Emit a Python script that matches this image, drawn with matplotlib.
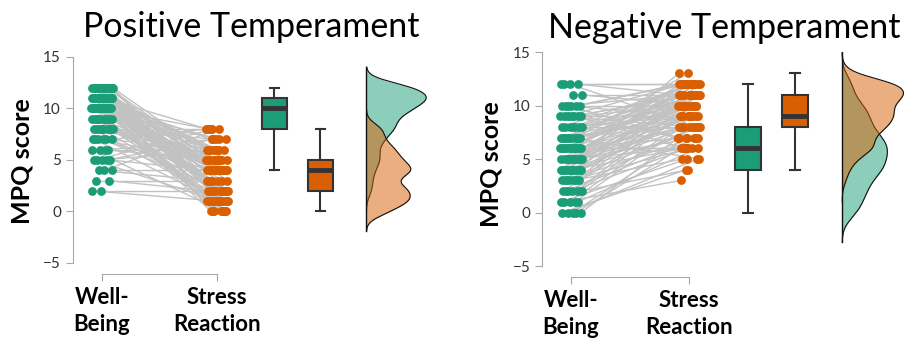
import numpy as np
import matplotlib.pyplot as plt

plt.rcParams['font.family'] = ['Lato', 'DejaVu Sans']

green = "#1b9e77"
orange = "#d95f02"

conditions = ["Well-\nBeing", "Stress\nReaction"]
titles = ["Positive Temperament", "Negative Temperament"]

# MPQ scores, one entry per participant (same order in both lists)
pos_wb = [12, 12, 12, 12, 12, 12, 12, 12, 12, 12, 12, 12, 12, 12, 12, 12, 12, 12,
          11, 11, 11, 11, 11, 11, 11, 11, 11, 11, 11, 11, 11, 11, 11, 11, 11, 11, 11, 11, 11, 11,
          10, 10, 10, 10, 10, 10, 10, 10, 10, 10, 10, 10, 10, 10, 10, 10,
          9, 9, 9, 9, 9, 9, 9, 9, 9, 9,
          8, 8, 8, 8, 8, 8, 8, 8, 8, 8,
          7, 7, 7, 7, 7, 7,
          6, 6, 6, 6,
          5, 5, 5, 5, 5,
          4, 4, 4,
          3, 3,
          2, 2]
pos_sr = [0, 1, 1, 2, 2, 3, 4, 4, 5, 1, 0, 2, 4, 6, 3, 1, 5, 2,
          1, 2, 4, 0, 5, 3, 6, 4, 2, 1, 4, 7, 5, 0, 3, 2, 1, 4, 6, 5, 8, 2,
          4, 1, 5, 2, 6, 0, 3, 4, 7, 1, 5, 2, 4, 6, 8, 0,
          5, 2, 4, 7, 1, 6, 3, 4, 0, 5,
          6, 4, 1, 5, 8, 2, 4, 7, 3, 1,
          5, 6, 4, 8, 2, 1,
          7, 6, 0, 5,
          8, 4, 6, 1, 7,
          3, 4, 8,
          3, 2,
          2, 1]

neg_wb = [0, 0, 0, 0, 0,
          1, 1, 1, 1, 1,
          2, 2, 2, 2, 2, 2, 2,
          3, 3, 3, 3, 3, 3, 3,
          4, 4, 4, 4, 4, 4, 4, 4, 4, 4, 4, 4,
          5, 5, 5, 5, 5, 5, 5, 5, 5, 5, 5,
          6, 6, 6, 6, 6, 6, 6, 6, 6, 6, 6, 6, 6,
          7, 7, 7, 7, 7, 7, 7, 7, 7, 7, 7,
          8, 8, 8, 8, 8, 8, 8,
          9, 9, 9, 9, 9, 9, 9, 9,
          10, 10, 10, 10, 10, 10,
          11, 11,
          12, 12, 12, 12]
neg_sr = [4, 6, 5, 8, 7,
          3, 6, 9, 5, 8,
          7, 10, 6, 9, 11, 8, 4,
          5, 8, 11, 6, 9, 12, 7,
          9, 6, 11, 10, 8, 12, 7, 11, 9, 10, 13, 12,
          10, 8, 8, 9, 11, 6, 11, 7, 12, 10, 9,
          11, 9, 12, 10, 8, 11, 6, 12, 9, 6, 7, 10, 12,
          12, 10, 8, 11, 9, 12, 11, 5, 10, 13, 9,
          11, 12, 9, 10, 8, 12, 11,
          12, 10, 11, 9, 6, 7, 8, 11,
          11, 12, 10, 9, 12, 7,
          10, 11,
          12, 11, 8, 12]

# kernel bandwidths (well-being, stress reaction)
pos_bw = [0.67, 0.63]
neg_bw = [0.93, 0.67]


def kde(vals, bw):
    grid = np.linspace(vals.min() - 3 * bw, vals.max() + 3 * bw, 400)
    z = (grid[:, None] - vals[None, :]) / bw
    dens = np.exp(-0.5 * z ** 2).sum(axis=1) / (len(vals) * bw * np.sqrt(2 * np.pi))
    return grid, dens


def draw_panel(ax, wb, sr, bws):
    wb = np.array(wb, dtype=float)
    sr = np.array(sr, dtype=float)
    idx = np.arange(len(wb))
    # spread dots sideways inside each condition
    x_wb = 1 + 0.095 * (2 * ((idx * 0.618034 + 0.11) % 1) - 1)
    x_sr = 2 + 0.095 * (2 * ((idx * 0.754878 + 0.37) % 1) - 1)

    for i in idx:
        ax.plot([x_wb[i], x_sr[i]], [wb[i], sr[i]], color="#c2c2c2", lw=1.0, zorder=1)
    ax.scatter(x_wb, wb, s=40, color=green, lw=0, zorder=3)
    ax.scatter(x_sr, sr, s=40, color=orange, lw=0, zorder=3)

    bp = ax.boxplot([wb, sr], positions=[2.5, 2.9], widths=0.22, patch_artist=True,
                    showfliers=False, capwidths=0.08, manage_ticks=False,
                    boxprops=dict(edgecolor="#333333", lw=1.5),
                    whiskerprops=dict(color="#333333", lw=1.5),
                    capprops=dict(color="#333333", lw=1.5),
                    medianprops=dict(color="#333333", lw=3.5))
    for patch, c in zip(bp["boxes"], [green, orange]):
        patch.set_facecolor(c)

    # half violins
    base = 3.3
    curves = [kde(wb, bws[0]), kde(sr, bws[1])]
    scale = 0.52 / max(d.max() for g, d in curves)
    lo = min(g.min() for g, d in curves)
    hi = max(g.max() for g, d in curves)
    for (g, d), c in zip(curves, [green, orange]):
        ax.fill_betweenx(g, base, base + d * scale, color=c, alpha=0.5, lw=0, zorder=2)
        ax.plot(base + d * scale, g, color="#111111", lw=0.8, zorder=2)
    ax.plot([base, base], [lo, hi], color="#111111", lw=1.0, zorder=2)

    ax.set_ylim(-5, 15)
    for s in ["top", "right"]:
        ax.spines[s].set_visible(False)
    ax.spines["left"].set_bounds(-5, 15)
    ax.spines["bottom"].set_bounds(1, 2)
    ax.spines["bottom"].set_position(("outward", 8))
    for s in ["left", "bottom"]:
        ax.spines[s].set_color("#a8a8a8")
    ax.tick_params(axis="y", colors="#a8a8a8", labelcolor="#333333", labelsize=11, length=5)
    ax.tick_params(axis="x", colors="#a8a8a8", labelcolor="black", length=5, pad=4)
    ax.set_yticks([-5, 0, 5, 10, 15])
    ax.set_xticks([1, 2])
    ax.set_xticklabels(conditions, fontsize=16, fontweight="bold", linespacing=1.35)


fig = plt.figure(figsize=(9.09, 3.38), dpi=100)

ax1 = fig.add_axes([0.0800, 0.2219, 0.399, 0.6095])
ax1.set_xlim(0.745, 3.9)
draw_panel(ax1, pos_wb, pos_sr, pos_bw)

ax2 = fig.add_axes([0.5963, 0.213, 0.4015, 0.633])
ax2.set_xlim(0.754, 3.85)
draw_panel(ax2, neg_wb, neg_sr, neg_bw)

fig.text(251 / 909, 1 - 37 / 338, titles[0], fontsize=24.5, ha="center", va="baseline")
fig.text(724 / 909, 1 - 38 / 338, titles[1], fontsize=24.5, ha="center", va="baseline")
fig.text(22 / 909, 1 - 161 / 338, "MPQ score", fontsize=18, fontweight="bold",
         rotation=90, ha="center", va="center")
fig.text(491 / 909, 1 - 164 / 338, "MPQ score", fontsize=18, fontweight="bold",
         rotation=90, ha="center", va="center")

fig.savefig("out.png", dpi=100)
